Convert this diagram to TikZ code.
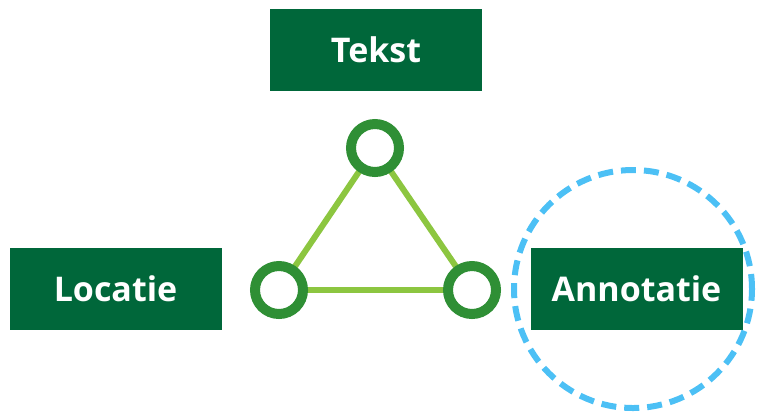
\documentclass[tikz,border=0pt]{standalone}
\usepackage{fontspec}
\setmainfont{Open Sans}
\usetikzlibrary{backgrounds}
\definecolor{boxgreen}{HTML}{00673A}
\definecolor{ringgreen}{HTML}{2F8F35}
\definecolor{linkgreen}{HTML}{8CC640}
\definecolor{focusblue}{HTML}{4CC0F5}
\begin{document}
\begin{tikzpicture}[x=1pt, y=-1pt,
		tag/.style={rectangle, fill=boxgreen, text=white, inner sep=0pt,
			font=\fontsize{34}{40}\selectfont\bfseries,
			minimum width=212pt, minimum height=82pt},
		vertex/.style={circle, draw=ringgreen, line width=10pt, fill=white,
			minimum size=48pt, inner sep=0pt},
		link/.style={draw=linkgreen, line width=6pt},
		focus/.style={circle, draw=focusblue, line width=6pt,
			dash pattern=on 15pt off 8pt, minimum size=238pt, inner sep=0pt}
		]
		\useasboundingbox (0,0) rectangle (757,416);
		
		% ---- Labels ----
		\node[tag] (tekst)     at (376, 50)      {Tekst};
		\node[tag] (locatie)   at (115.5, 288.5) {Locatie};
		\node[tag] (annotatie) at (636.5, 288.5) {Annotatie};
		
		% ---- Triangle ----
		\node[vertex] (top)   at (375, 148) {};
		\node[vertex] (left)  at (279, 290) {};
		\node[vertex] (right) at (472, 290) {};
		
		% edges go behind the rings
		\begin{scope}[on background layer]
			\draw[link] (top.center) -- (left.center);
			\draw[link] (left.center) -- (right.center);
			\draw[link] (right.center) -- (top.center);
		\end{scope}
		
		% ---- Highlight around the annotation ----
		\node[focus] (ring) at (633, 289) {};
	\end{tikzpicture}
\end{document}
